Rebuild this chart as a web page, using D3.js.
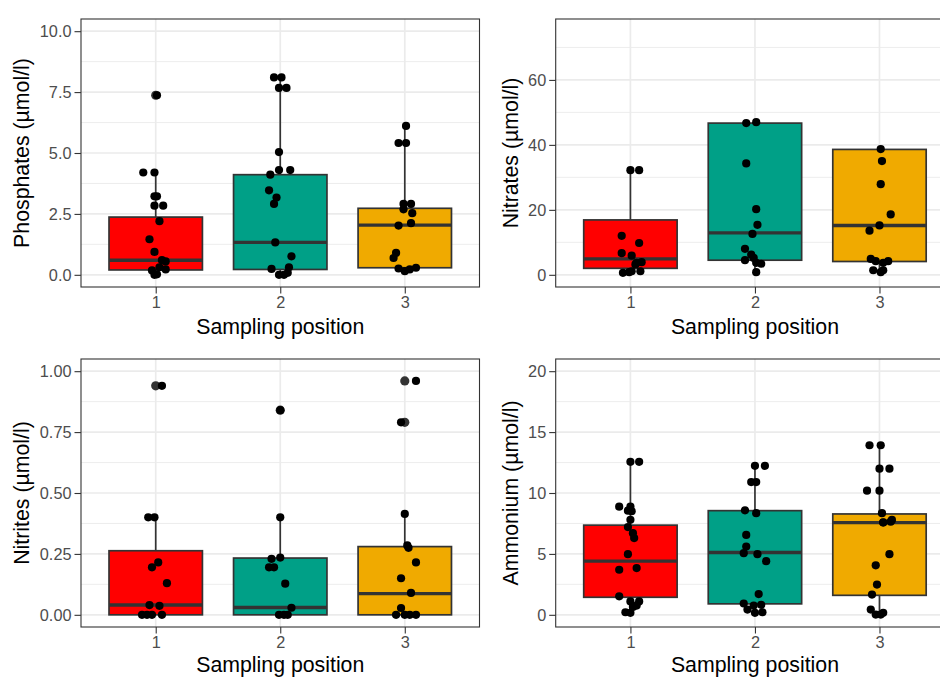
<!DOCTYPE html>
<html><head><meta charset="utf-8">
<script src="https://cdn.jsdelivr.net/npm/d3@7"></script>
<style>
html,body{margin:0;padding:0;background:#fff;}
svg{display:block;}
</style></head>
<body>
<svg id="chart" width="940" height="677"></svg>
<script>
// ---------------- data ----------------
const categories = ["1", "2", "3"];
const boxColors = ["#FF0000", "#00A087", "#F0AA00"];
const xTitle = "Sampling position";

// Phosphates
const phosValues = [
  [7.37, 4.20, 4.20, 3.22, 3.22, 2.84, 2.84, 2.20, 1.46, 0.94, 0.60, 0.55, 0.31, 0.18, 0.22, 0.00, 0.02],
  [8.10, 8.10, 7.67, 7.67, 5.04, 4.30, 4.30, 4.11, 3.47, 3.17, 2.91, 1.33, 0.76, 0.24, 0.31, 0.00, 0.00, 0.08],
  [6.11, 5.41, 5.41, 2.91, 2.91, 2.69, 2.53, 2.02, 2.12, 0.90, 0.69, 0.26, 0.15, 0.22, 0.29]
];
const phosJitter = [
  [0.01, -0.10, -0.01, -0.01, 0.01, -0.01, 0.06, 0.03, -0.05, -0.01, 0.05, 0.08, 0.03, -0.03, 0.08, -0.01, 0.01],
  [-0.05, 0.01, -0.01, 0.05, -0.01, -0.01, 0.08, -0.08, -0.09, -0.03, -0.05, -0.04, 0.09, -0.07, 0.07, -0.01, 0.03, 0.06],
  [0.01, -0.05, 0.01, -0.01, 0.05, -0.01, 0.06, -0.05, 0.05, -0.07, -0.09, -0.05, 0.00, 0.04, 0.09]
];
// [lower whisker, q1, median, q3, upper whisker]
const phosBoxes = [[0.00, 0.20, 0.60, 2.37, 4.20], [0.00, 0.22, 1.33, 4.11, 8.10], [0.15, 0.29, 2.04, 2.73, 6.11]];
const phosOutliers = [[7.37], [], []];
const phosTicks = [0, 2.5, 5, 7.5, 10];
const phosMinor = [1.25, 3.75, 6.25, 8.75];

// Nitrates
const nitraValues = [
  [32.2, 32.2, 12.0, 9.8, 6.7, 5.9, 3.7, 3.9, 3.2, 0.6, 0.8, 1.1, 1.1],
  [46.7, 47.0, 34.3, 20.2, 15.4, 12.6, 8.0, 6.2, 5.2, 4.5, 3.4, 3.7, 0.8],
  [38.7, 35.0, 27.9, 18.6, 15.2, 13.6, 4.9, 4.2, 4.2, 3.7, 1.4, 0.8, 1.4]
];
const nitraJitter = [
  [0.00, 0.07, -0.07, 0.07, -0.07, 0.01, 0.05, 0.09, 0.04, -0.06, -0.01, 0.01, 0.08],
  [-0.07, 0.01, -0.07, 0.01, 0.02, -0.02, -0.08, -0.03, -0.01, -0.08, 0.05, 0.01, 0.01],
  [0.01, 0.02, 0.01, 0.09, 0.00, -0.08, -0.07, -0.03, 0.07, 0.03, -0.05, 0.01, 0.03]
];
const nitraBoxes = [[0.6, 2.0, 4.9, 16.9, 32.2], [0.8, 4.5, 12.9, 46.7, 47.0], [0.8, 4.1, 15.2, 38.6, 38.7]];
const nitraOutliers = [[], [], []];
const nitraTicks = [0, 20, 40, 60];
const nitraMinor = [10, 30, 50, 70];

// Nitrites
const nitriValues = [
  [0.94, 0.40, 0.40, 0.215, 0.195, 0.13, 0.04, 0.037, 0, 0, 0, 0],
  [0.84, 0.40, 0.235, 0.23, 0.195, 0.195, 0.128, 0.029, 0, 0, 0],
  [0.96, 0.79, 0.414, 0.285, 0.275, 0.215, 0.15, 0.09, 0.028, 0, 0, 0, 0]
];
const nitriJitter = [
  [0.05, -0.06, -0.01, 0.02, -0.03, 0.09, -0.05, 0.03, -0.11, -0.07, -0.03, 0.05],
  [0.00, 0.00, 0.00, -0.07, -0.09, -0.05, 0.04, 0.09, -0.01, 0.03, 0.06],
  [0.09, -0.03, 0.00, 0.02, 0.03, 0.09, -0.03, 0.05, -0.03, -0.07, 0.00, 0.04, 0.09]
];
const nitriBoxes = [[0, 0, 0.04, 0.263, 0.40], [0, 0, 0.03, 0.233, 0.40], [0, 0, 0.087, 0.28, 0.414]];
const nitriOutliers = [[0.94], [0.84], [0.96, 0.79]];
const nitriTicks = [0, 0.25, 0.5, 0.75, 1];
const nitriMinor = [0.125, 0.375, 0.625, 0.875];

// Ammonium
const ammoValues = [
  [12.56, 12.56, 8.88, 8.88, 8.55, 8.5, 7.8, 7.2, 6.7, 6.3, 4.98, 3.7, 3.84, 1.52, 1.1, 1.1, 0.65, 0.76, 0.21, 0.16],
  [12.23, 12.23, 10.9, 10.9, 8.58, 8.34, 6.56, 5.6, 5.06, 4.98, 4.4, 1.7, 0.93, 0.76, 0.82, 0.43, 0.16, 0.21],
  [13.92, 13.92, 12.0, 12.0, 10.19, 10.19, 8.34, 7.6, 7.65, 7.57, 7.79, 4.98, 4.06, 2.48, 1.66, 0.43, 0.02, 0.02, 0.16]
];
const ammoJitter = [
  [0.00, 0.07, -0.09, 0.00, -0.02, 0.01, 0.00, -0.02, 0.02, 0.03, -0.02, -0.09, 0.05, -0.09, 0.00, 0.07, 0.02, 0.05, -0.04, 0.00],
  [0.00, 0.08, -0.03, 0.01, -0.08, 0.01, -0.07, -0.07, -0.09, 0.02, 0.09, 0.03, -0.09, -0.01, 0.05, -0.06, 0.00, 0.06],
  [-0.08, 0.01, 0.00, 0.08, -0.10, 0.00, 0.02, 0.03, 0.09, 0.03, 0.10, 0.08, -0.03, -0.02, -0.06, -0.07, -0.03, 0.01, 0.03]
];
const ammoBoxes = [[0.16, 1.44, 4.41, 7.36, 12.56], [0.16, 0.90, 5.12, 8.55, 12.23], [0, 1.60, 7.57, 8.28, 13.92]];
const ammoOutliers = [[], [], []];
const ammoTicks = [0, 5, 10, 15, 20];
const ammoMinor = [2.5, 7.5, 12.5, 17.5];

// ---------------- drawing ----------------
const FONT = "'Liberation Sans', Arial, Helvetica, sans-serif";
const svg = d3.select("#chart");
svg.append("rect").attr("width", 940).attr("height", 677).attr("fill", "#fff");

const panels = [
  {left: 81, top: 19, title: "Phosphates (µmol/l)", values: phosValues, jitter: phosJitter, boxes: phosBoxes, outliers: phosOutliers, ticks: phosTicks, minor: phosMinor, lim: [0, 10], fmt: d3.format(".1f"), titleX: 28.5, xTitleGap: 46.5},
  {left: 555.7, top: 19, title: "Nitrates (µmol/l)", values: nitraValues, jitter: nitraJitter, boxes: nitraBoxes, outliers: nitraOutliers, ticks: nitraTicks, minor: nitraMinor, lim: [0, 75], fmt: d3.format("d"), titleX: 517.5, xTitleGap: 46.5},
  {left: 81, top: 359, title: "Nitrites (µmol/l)", values: nitriValues, jitter: nitriJitter, boxes: nitriBoxes, outliers: nitriOutliers, ticks: nitriTicks, minor: nitriMinor, lim: [0, 1], fmt: d3.format(".2f"), titleX: 28.5, xTitleGap: 44.5},
  {left: 555.7, top: 359, title: "Ammonium (µmol/l)", values: ammoValues, jitter: ammoJitter, boxes: ammoBoxes, outliers: ammoOutliers, ticks: ammoTicks, minor: ammoMinor, lim: [0, 20], fmt: d3.format("d"), titleX: 517.5, xTitleGap: 44.5}
];
const PW = 398.5, PH = 268;

panels.forEach(p => {
  const g = svg.append("g");
  const span = p.lim[1] - p.lim[0];
  const y = d3.scaleLinear().domain([p.lim[0] - 0.05 * span, p.lim[1] + 0.05 * span]).range([p.top + PH, p.top]);
  const x = d3.scaleLinear().domain([0.4, 3.6]).range([p.left, p.left + PW]);
  const xc = i => x(i + 1);

  // background gridlines
  g.selectAll(".minor").data(p.minor).join("line")
    .attr("x1", p.left).attr("x2", p.left + PW)
    .attr("y1", d => y(d)).attr("y2", d => y(d))
    .attr("stroke", "#EBEBEB").attr("stroke-width", 0.9);
  g.selectAll(".majorY").data(p.ticks).join("line")
    .attr("x1", p.left).attr("x2", p.left + PW)
    .attr("y1", d => y(d)).attr("y2", d => y(d))
    .attr("stroke", "#EBEBEB").attr("stroke-width", 1.7);
  g.selectAll(".majorX").data(categories).join("line")
    .attr("x1", (d, i) => xc(i)).attr("x2", (d, i) => xc(i))
    .attr("y1", p.top).attr("y2", p.top + PH)
    .attr("stroke", "#EBEBEB").attr("stroke-width", 1.7);

  // boxplots
  categories.forEach((c, i) => {
    const b = p.boxes[i];
    const hw = 0.375;
    g.append("line").attr("x1", xc(i)).attr("x2", xc(i)).attr("y1", y(b[3])).attr("y2", y(b[4]))
      .attr("stroke", "#333333").attr("stroke-width", 1.7);
    g.append("line").attr("x1", xc(i)).attr("x2", xc(i)).attr("y1", y(b[1])).attr("y2", y(b[0]))
      .attr("stroke", "#333333").attr("stroke-width", 1.7);
    g.append("rect")
      .attr("x", x(i + 1 - hw)).attr("width", x(i + 1 + hw) - x(i + 1 - hw))
      .attr("y", y(b[3])).attr("height", Math.max(0, y(b[1]) - y(b[3])))
      .attr("fill", boxColors[i]).attr("stroke", "#333333").attr("stroke-width", 1.7);
    g.append("line").attr("x1", x(i + 1 - hw)).attr("x2", x(i + 1 + hw))
      .attr("y1", y(b[2])).attr("y2", y(b[2]))
      .attr("stroke", "#333333").attr("stroke-width", 3.4);
    g.selectAll(null).data(p.outliers[i]).join("circle")
      .attr("cx", xc(i)).attr("cy", d => y(d)).attr("r", 4.6).attr("fill", "#333333");
  });

  // jittered points
  categories.forEach((c, i) => {
    g.selectAll(null).data(p.values[i]).join("circle")
      .attr("cx", (d, k) => x(i + 1 + p.jitter[i][k])).attr("cy", d => y(d))
      .attr("r", 4.1).attr("fill", "#000");
  });

  // panel border
  g.append("rect").attr("x", p.left).attr("y", p.top).attr("width", PW).attr("height", PH)
    .attr("fill", "none").attr("stroke", "#333333").attr("stroke-width", 1.1);

  // axes
  const ya = d3.axisLeft(y).tickValues(p.ticks).tickFormat(p.fmt).tickSize(6.5).tickPadding(3);
  const yg = g.append("g").attr("transform", `translate(${p.left},0)`).call(ya);
  yg.select(".domain").remove();
  yg.selectAll(".tick line").attr("stroke", "#333333").attr("stroke-width", 1.1);
  yg.selectAll(".tick text").attr("fill", "#4D4D4D").style("font-family", FONT).style("font-size", "16.3px");

  const xa = d3.axisBottom(x).tickValues([1, 2, 3]).tickFormat((d) => categories[d - 1]).tickSize(6.5).tickPadding(3);
  const xg = g.append("g").attr("transform", `translate(0,${p.top + PH})`).call(xa);
  xg.select(".domain").remove();
  xg.selectAll(".tick line").attr("stroke", "#333333").attr("stroke-width", 1.1);
  xg.selectAll(".tick text").attr("fill", "#4D4D4D").style("font-family", FONT).style("font-size", "16.3px");

  // titles
  g.append("text").attr("x", p.left + PW / 2).attr("y", p.top + PH + p.xTitleGap)
    .attr("text-anchor", "middle").style("font-family", FONT).style("font-size", "21.3px").attr("fill", "#000")
    .text(xTitle);
  g.append("text").attr("transform", `translate(${p.titleX},${p.top + PH / 2}) rotate(-90)`)
    .attr("text-anchor", "middle").style("font-family", FONT).style("font-size", "21.3px").attr("fill", "#000")
    .text(p.title);
});
</script>
</body></html>
